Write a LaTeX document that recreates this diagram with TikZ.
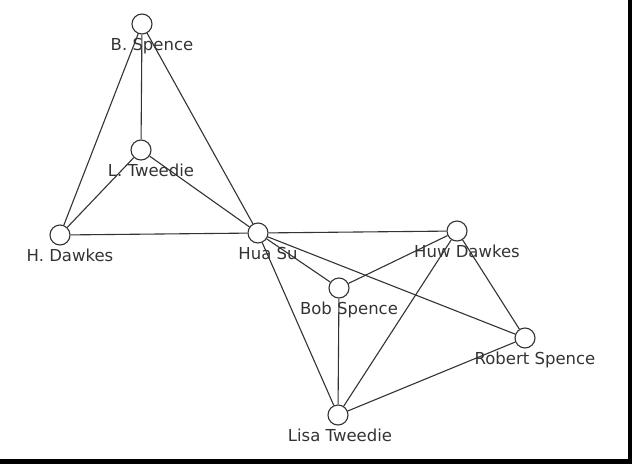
\documentclass[tikz,border=0pt]{standalone}
\usepackage{fontspec}
\setmainfont{DejaVu Sans}
\usetikzlibrary{positioning}

\begin{document}
\begin{tikzpicture}[x=1pt, y=-1pt,
    person/.style={circle, draw=black!80, fill=white, line width=1.1pt, minimum size=20pt, inner sep=0pt},
    tag/.style={font=\fontsize{16.5}{18}\selectfont, text=black!80, xshift=10pt, yshift=-1.5pt, inner sep=2pt},
    link/.style={draw=black!80, line width=1.1pt}]

        % Frame of the panel (right and bottom edges only)
        \useasboundingbox (0, 0) rectangle (632, 464);
        \fill (628, 0) rectangle (632, 464);
        \fill (0, 459) rectangle (632, 464);

        % People
        \node[person, label={[tag]below:B. Spence}] (bspence) at (142, 24) {};
        \node[person, label={[tag]below:L. Tweedie}] (ltweedie) at (141, 150) {};
        \node[person, label={[tag]below:H. Dawkes}] (hdawkes) at (60, 235) {};
        \node[person, label={[tag]below:Hua Su}] (huasu) at (258, 233) {};
        \node[person, label={[tag]below:Huw Dawkes}] (huwdawkes) at (457, 231) {};
        \node[person, label={[tag]below:Bob Spence}] (bobspence) at (339, 288) {};
        \node[person, label={[tag]below:Robert Spence}] (robertspence) at (525, 338) {};
        \node[person, label={[tag, xshift=-8pt]below:Lisa Tweedie}] (lisatweedie) at (338, 415) {};

        % Links of the left group
        \foreach \a/\b in {bspence/ltweedie, bspence/hdawkes, bspence/huasu,
                           ltweedie/hdawkes, ltweedie/huasu, hdawkes/huasu} {
          \path[link] (\a) -- (\b);
        }

        % Links of the right group
        \foreach \a/\b in {huasu/huwdawkes, huasu/bobspence, huasu/robertspence,
                           huasu/lisatweedie, huwdawkes/bobspence, huwdawkes/lisatweedie,
                           huwdawkes/robertspence, bobspence/lisatweedie, robertspence/lisatweedie} {
          \path[link] (\a) -- (\b);
        }

      \end{tikzpicture}
\end{document}
